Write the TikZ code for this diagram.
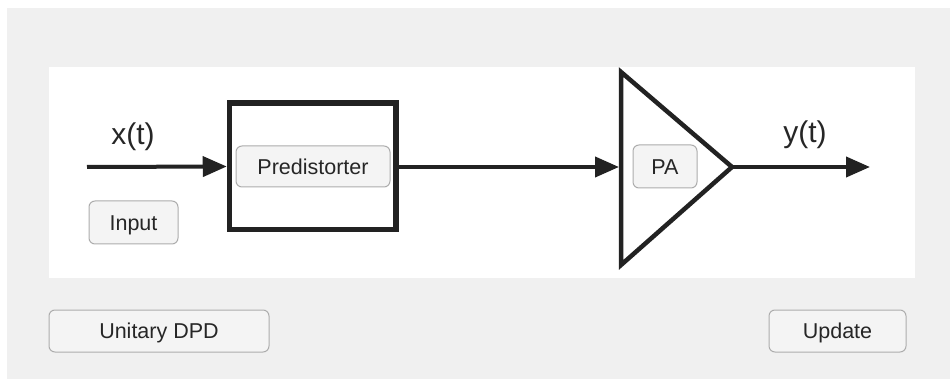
\documentclass[tikz,border=0pt]{standalone}
\usepackage{fontspec}
\setmainfont{Liberation Sans}
\usetikzlibrary{arrows.meta}

\definecolor{panelgray}{HTML}{F0F0F0}
\definecolor{btnfill}{HTML}{F4F4F4}
\definecolor{btnedge}{HTML}{ADADAD}
\definecolor{ink}{HTML}{262626}
\definecolor{wire}{HTML}{222222}

\tikzset{
  button/.style={draw=btnedge, fill=btnfill, line width=1pt, rounded corners=6pt,
    text=ink, inner sep=0pt, text height=15.5pt, text depth=0pt,
    font=\fontsize{21.5}{24}\selectfont},
  signal/.style={line width=4pt, draw=wire,
    -{Triangle[length=24pt,width=20pt]}},
  siglabel/.style={text=ink, inner sep=0pt, font=\fontsize{30}{33}\selectfont},
}

\begin{document}
\begin{tikzpicture}[x=1pt,y=-1pt]
  \useasboundingbox (0,0) rectangle (950,379);

  % window background and white drawing panel
  \fill[panelgray] (7,8) rectangle (950,379);
  \fill[white] (49,67) rectangle (915,278);

  % predistorter block
  \node[draw=wire, line width=5.5pt, minimum width=166.5pt, minimum height=126.5pt,
        inner sep=0pt] (pred) at (312.75,166.5) {};

  % power amplifier triangle
  \coordinate (patop) at (621,72);
  \coordinate (pabot) at (621,265);
  \coordinate (paout) at (732,167);
  \coordinate (pain)  at (619,167);
  \draw[wire, line width=4.5pt, line join=miter] (patop) -- (paout) -- (pabot) -- cycle;

  % signal path
  \coordinate (src) at (87,167);
  \coordinate (sink) at (870,167);
  \draw[signal] (src) -- (pred.west);
  \draw[signal] (pred.east |- pain) -- (pain);
  \draw[signal] (paout) -- (sink);

  % signal labels
  \node[siglabel] (xlab) at (133,137) {x(t)};
  \node[siglabel] (ylab) at (805,135) {y(t)};

  % buttons
  \node[button, minimum width=154pt, minimum height=41pt] (bpred) at (313,166.5) {Predistorter};
  \node[button, minimum width=64pt, minimum height=43pt] (bpa) at (665,166.5) {PA};
  \node[button, minimum width=89pt, minimum height=43pt] (binput) at (133.5,222.5) {Input};
  \node[button, minimum width=220pt, minimum height=42pt] (bdpd) at (159,331) {Unitary DPD};
  \node[button, minimum width=137pt, minimum height=42pt] (bupd) at (837.5,331) {Update};
\end{tikzpicture}
\end{document}
